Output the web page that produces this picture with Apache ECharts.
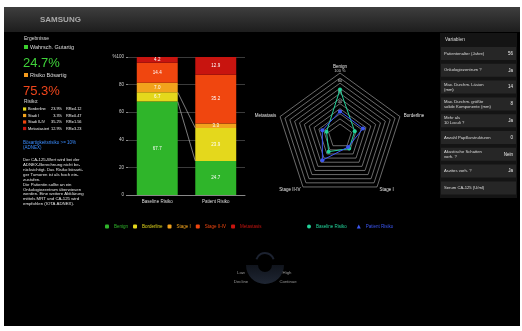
<!DOCTYPE html>
<html>
<head>
<meta charset="utf-8">
<script src="https://cdn.jsdelivr.net/npm/echarts@6/dist/echarts.min.js"></script>
<style>
  html, body { margin: 0; padding: 0; background: #fff; }
  #chart { width: 522px; height: 331px; }
</style>
</head>
<body>
<div id="chart"></div>
<script>
// data
const categories = ["Baseline Risiko", "Patient Risiko"];
const riskNames = ["Benign", "Borderline", "Stage I", "Stage II-IV", "Metastasis"];
const baselineRisk = [67.7, 6.7, 7.0, 14.4, 4.2];
const patientRisk = [24.7, 23.9, 3.3, 35.2, 12.9];
const relRisk = ["4.12", "0.47", "1.56", "3.23"];
const radarTicks = [20, 40, 60, 80, 100];
const varLabels = [
  ["Patientenalter (Jahre)"],
  ["Onkologiezentrum ?"],
  ["Max. Durchm. Läsion", "(mm)"],
  ["Max. Durchm. größte", "solide Komponente (mm)"],
  ["Mehr als", "10 Loculi ?"],
  ["Anzahl Papillarstrukturen"],
  ["Akustische Schatten", "vorh. ?"],
  ["Aszites vorh. ?"],
  ["Serum CA-125 (U/ml)"]
];
const varValues = ["56", "Ja", "14", "8", "Ja", "0", "Nein", "Ja", ""];

const riskColors = ["#2fb52a", "#e4d81c", "#f2a21c", "#f0460f", "#c8140f"];
const baseColor = "#22d39a";
const patColor = "#3b56f2";
const font = "Liberation Sans, Arial, sans-serif";

const myChart = echarts.init(document.getElementById("chart"));

// radar goes counter-clockwise: Benign, Metastasis, Stage II-IV, Stage I, Borderline
const radarOrder = [0, 4, 3, 2, 1];

const txt = (x, y, text, size, color, extra) => ({
  type: "text", x: x, y: y, silent: true,
  style: Object.assign({ text: text, fontSize: size, fill: color, fontFamily: font, verticalAlign: "middle" }, extra || {})
});

const graphics = [];
// page frame
graphics.push({ type: "rect", shape: { x: 4, y: 7, width: 516, height: 319 }, style: { fill: "#000" }, z: -10 });
graphics.push({
  type: "rect", shape: { x: 4, y: 7, width: 516, height: 25 }, z: -9,
  style: { fill: new echarts.graphic.LinearGradient(0, 0, 0, 1, [{ offset: 0, color: "#3e3e3e" }, { offset: 1, color: "#1d1d1d" }]) }
});
graphics.push(txt(40, 19.5, "SAMSUNG", 8, "#a8a8a8", { fontWeight: "bold" }));

// left results column
graphics.push(txt(24, 39, "Ergebnisse", 5, "#ddd"));
graphics.push({ type: "rect", shape: { x: 24, y: 45, width: 4, height: 4 }, style: { fill: "#3ccf2e" } });
graphics.push(txt(30, 47.5, "Wahrsch. Gutartig", 5.5, "#ddd"));
graphics.push(txt(23, 63.5, "24.7%", 13, "#3fd33a"));
graphics.push({ type: "rect", shape: { x: 24, y: 73, width: 4, height: 4 }, style: { fill: "#f39a1c" } });
graphics.push(txt(30, 75.5, "Risiko Bösartig", 5.5, "#ddd"));
graphics.push(txt(23, 91.5, "75.3%", 13, "#f0461c"));
graphics.push(txt(24, 102, "Risiko:", 4.8, "#ddd"));
["Borderline", "Stadi I", "Stadi II-IV", "Metastasiert"].forEach((n, i) => {
  const y = 109 + i * 6.5;
  graphics.push({ type: "rect", shape: { x: 23, y: y - 1.6, width: 3.2, height: 3.2 }, style: { fill: riskColors[i + 1] } });
  graphics.push(txt(28, y, n, 3.9, "#eee"));
  graphics.push(txt(62, y, patientRisk[i + 1].toFixed(1) + "%", 3.9, "#eee", { align: "right" }));
  graphics.push(txt(66, y, "RR=" + relRisk[i], 3.9, "#eee"));
});
graphics.push(txt(23, 143, "Bösartigkeitsrisiko >= 10%", 4.5, "#3a8cff"));
graphics.push(txt(23, 148, "(ADNEX)", 4.5, "#3a8cff"));
[
  "Der CA-125-Wert wird bei der",
  "ADNEX-Berechnung nicht be-",
  "rücksichtigt. Das Risiko bösarti-",
  "ger Tumoren ist als hoch ein-",
  "zustufen.",
  "Die Patientin sollte an ein",
  "Onkologiezentrum überwiesen",
  "werden. Eine weitere Abklärung",
  "mittels MRT und CA-125 wird",
  "empfohlen (IOTA ADNEX)."
].forEach((l, i) => graphics.push(txt(23, 160 + i * 4.9, l, 4.3, "#e6e6e6")));

// right variables panel
graphics.push({ type: "rect", shape: { x: 440, y: 33, width: 77, height: 165 }, style: { fill: "#141414" }, z: -5 });
graphics.push(txt(445, 40, "Variablen", 4.8, "#ddd"));
varLabels.forEach((lab, i) => {
  const cy = 53.5 + i * 16.8;
  graphics.push({ type: "rect", shape: { x: 441, y: cy - 6.5, width: 75, height: 13 }, style: { fill: "#262626" }, z: -4 });
  if (lab.length === 1) {
    graphics.push(txt(444, cy, lab[0], 4.2, "#ddd"));
  } else {
    graphics.push(txt(444, cy - 2.5, lab[0], 4.2, "#ddd"));
    graphics.push(txt(444, cy + 2.5, lab[1], 4.2, "#ddd"));
  }
  if (varValues[i]) graphics.push(txt(513, cy, varValues[i], 4.5, "#eee", { align: "right" }));
});

// dim dial at the bottom
graphics.push({
  type: "sector", shape: { cx: 265, cy: 265, r0: 7, r: 19, startAngle: 0, endAngle: Math.PI },
  style: { fill: new echarts.graphic.LinearGradient(0, 0, 0, 1, [{ offset: 0, color: "#10141c" }, { offset: 1, color: "#1f2633" }]) }
});
graphics.push({ type: "arc", shape: { cx: 265, cy: 262, r: 9, startAngle: Math.PI * 1.1, endAngle: Math.PI * 1.9 }, style: { stroke: "#1c2230", lineWidth: 2, fill: null } });
graphics.push(txt(241, 273, "Low", 4.3, "#9a9a9a", { align: "center" }));
graphics.push(txt(287, 273, "High", 4.3, "#9a9a9a", { align: "center" }));
graphics.push(txt(241, 282, "Decline", 4.3, "#9a9a9a", { align: "center" }));
graphics.push(txt(288, 282, "Continue", 4.3, "#9a9a9a", { align: "center" }));

// cumulative boundaries for the connector lines between the two bars
const cumBase = [baselineRisk[0], baselineRisk[0] + baselineRisk[1]];
const cumPat = [patientRisk[0], patientRisk[0] + patientRisk[1]];

const options = {
  backgroundColor: "#fff",
  animation: false,
  textStyle: { fontFamily: font },
  graphic: { elements: graphics },
  grid: { left: 128, right: 277, top: 57, bottom: 136 },
  xAxis: {
    type: "category",
    data: categories,
    axisLine: { lineStyle: { color: "#888" } },
    axisTick: { show: false },
    axisLabel: { color: "#ddd", fontSize: 4.5, margin: 4 }
  },
  yAxis: {
    type: "value",
    min: 0,
    max: 100,
    interval: 20,
    axisLine: { show: false },
    axisTick: { show: true, length: 2, lineStyle: { color: "#888" } },
    axisLabel: { color: "#ccc", fontSize: 4.5, margin: 4, formatter: (v) => (v === 100 ? "%100" : v) },
    splitLine: { lineStyle: { color: "#4a4a4a", width: 0.8 } }
  },
  legend: [
    {
      left: 100, top: 219, itemWidth: 4, itemHeight: 4, itemGap: 5, icon: "roundRect",
      textStyle: { fontSize: 4.5 },
      data: riskNames.map((n, i) => ({ name: n, textStyle: { color: riskColors[i] } }))
    },
    {
      left: 302, top: 219, itemWidth: 4, itemHeight: 4, itemGap: 10,
      textStyle: { fontSize: 4.5 },
      data: [
        { name: "Baseline Risiko", icon: "circle", textStyle: { color: baseColor } },
        { name: "Patient Risiko", icon: "triangle", textStyle: { color: patColor } }
      ]
    }
  ],
  radar: {
    center: [340, 136],
    radius: [12, 63],
    startAngle: 90,
    splitNumber: 10,
    shape: "polygon",
    indicator: radarOrder.map((k, i) => {
      const ind = { name: riskNames[k], min: 0, max: 100 };
      if (i === 0) {
        ind.axisLabel = {
          show: true, color: "#ccc", fontSize: 4, margin: 0, align: "center", verticalAlign: "bottom",
          formatter: (v) => (v === 100 ? "100 %" : (radarTicks.indexOf(v) >= 0 ? String(v) : ""))
        };
      }
      return ind;
    }),
    axisName: { color: "#e6e6e6", fontSize: 4.5 },
    nameGap: 4,
    axisLine: { show: false },
    axisLabel: { show: false },
    splitLine: { lineStyle: { color: "#9a9a9a", width: 0.7 } },
    splitArea: { show: false }
  },
  series: [
    ...riskNames.map((n, i) => ({
      name: n,
      type: "bar",
      stack: "risk",
      barWidth: "70%",
      data: [baselineRisk[i], patientRisk[i]],
      itemStyle: { color: riskColors[i] },
      label: { show: true, color: "#fff", fontSize: 4.5, formatter: (p) => p.value.toFixed(1) }
    })),
    {
      name: "connector",
      type: "custom",
      silent: true,
      data: [[0, cumBase[0], cumPat[0]], [0, cumBase[1], cumPat[1]]],
      encode: { x: 0, y: 1 },
      z: 3,
      renderItem: (params, api) => {
        const half = api.size([1, 0])[0] * 0.35;
        const p0 = api.coord([0, api.value(1)]);
        const p1 = api.coord([1, api.value(2)]);
        return {
          type: "line",
          shape: { x1: p0[0] + half, y1: p0[1], x2: p1[0] - half, y2: p1[1] },
          style: { stroke: "#cfcfcf", lineWidth: 0.6 }
        };
      }
    },
    {
      type: "radar",
      symbol: "circle",
      symbolSize: 4,
      data: [
        {
          name: "Baseline Risiko",
          value: radarOrder.map((k) => baselineRisk[k]),
          itemStyle: { color: baseColor },
          lineStyle: { color: baseColor, width: 1 }
        },
        {
          name: "Patient Risiko",
          value: radarOrder.map((k) => patientRisk[k]),
          itemStyle: { color: patColor },
          lineStyle: { color: patColor, width: 1 }
        }
      ]
    }
  ]
};

myChart.setOption(options);
</script>
</body>
</html>
